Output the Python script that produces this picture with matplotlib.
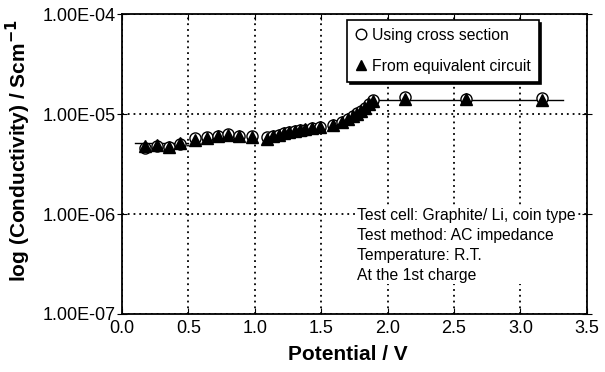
import matplotlib
matplotlib.use('Agg')
import matplotlib.pyplot as plt
from matplotlib.ticker import FixedLocator, FuncFormatter, NullLocator
import numpy as np

plt.rcParams['font.family'] = ['Liberation Sans', 'DejaVu Sans']
plt.rcParams['axes.unicode_minus'] = False

# potential (V) and conductivity (S/cm)
potential = [0.17, 0.26, 0.35, 0.44, 0.55, 0.64, 0.72, 0.80, 0.88, 0.98,
             1.09, 1.14, 1.18, 1.22, 1.26, 1.30, 1.34, 1.38, 1.43, 1.49,
             1.59, 1.66, 1.70, 1.74, 1.77, 1.80, 1.83, 1.86, 1.89,
             2.13, 2.59, 3.16]
cross_section = [4.6e-6, 4.8e-6, 4.7e-6, 5.0e-6, 5.7e-6, 5.9e-6, 6.1e-6, 6.3e-6, 6.1e-6, 6.0e-6,
                 5.9e-6, 6.0e-6, 6.2e-6, 6.4e-6, 6.6e-6, 6.8e-6, 6.9e-6, 7.0e-6, 7.2e-6, 7.4e-6,
                 7.8e-6, 8.4e-6, 9.0e-6, 9.6e-6, 1.02e-5, 1.08e-5, 1.16e-5, 1.25e-5, 1.38e-5,
                 1.48e-5, 1.42e-5, 1.45e-5]
equiv_circuit = [4.8e-6, 4.9e-6, 4.7e-6, 5.1e-6, 5.5e-6, 5.8e-6, 6.1e-6, 6.2e-6, 6.1e-6, 5.9e-6,
                 5.6e-6, 6.0e-6, 6.2e-6, 6.4e-6, 6.6e-6, 6.8e-6, 6.9e-6, 7.1e-6, 7.3e-6, 7.5e-6,
                 7.7e-6, 8.3e-6, 8.9e-6, 9.5e-6, 1.01e-5, 1.07e-5, 1.15e-5, 1.25e-5, 1.36e-5,
                 1.43e-5, 1.40e-5, 1.38e-5]

# fitted levels
fit_left_x = [0.10, 0.50]
fit_left_y = [5.1e-6, 5.1e-6]
fit_right_x = [1.85, 3.32]
fit_right_y = [1.38e-5, 1.38e-5]

fig = plt.figure(figsize=(6.05, 3.72), dpi=100)
ax = fig.add_axes([0.2017, 0.156, 0.7683, 0.806])

ax.plot(fit_left_x, fit_left_y, color='black', lw=1.0, zorder=2)
ax.plot(fit_right_x, fit_right_y, color='black', lw=1.0, zorder=2)

ax.plot(potential, cross_section, linestyle='none', marker='o', ms=8,
        mfc='white', mec='black', mew=1.0, label='Using cross section', zorder=3)
ax.plot(potential, equiv_circuit, linestyle='none', marker='^', ms=8,
        mfc='black', mec='black', label='From equivalent circuit', zorder=4)

ax.set_yscale('log')
ax.set_xlim(0, 3.5)
ax.set_ylim(1e-7, 1e-4)
ax.set_xticks(np.arange(0, 3.51, 0.5))
ax.xaxis.set_major_formatter(FuncFormatter(lambda v, p: '%.1f' % v))
ax.yaxis.set_major_locator(FixedLocator([1e-7, 1e-6, 1e-5, 1e-4]))
ax.yaxis.set_minor_locator(NullLocator())
ax.yaxis.set_major_formatter(FuncFormatter(lambda v, p: '%.2fE%03d' % (1.0, int(round(np.log10(v))))))

ax.grid(True, which='major', color='black', linestyle=(0, (1, 2.2)), linewidth=1.3)
ax.tick_params(axis='x', direction='in', top=True, length=4, labelsize=13, colors='black', pad=4)
ax.tick_params(axis='y', direction='inout', right=True, length=7, labelsize=13, pad=1)
for s in ax.spines.values():
    s.set_linewidth(1.3)

ax.set_xlabel('Potential / V', fontsize=15, fontweight='bold')
ax.set_ylabel('log (Conductivity) / Scm$^{\\mathbf{-1}}$', fontsize=15, fontweight='bold')
ax.xaxis.set_label_coords(0.486, -0.105)
ax.yaxis.set_label_coords(-0.192, 0.545)

leg = ax.legend(loc='upper left', bbox_to_anchor=(0.484, 0.98), borderaxespad=0,
                frameon=True, fancybox=False, framealpha=1,
                shadow={'color': 'black', 'alpha': 1.0}, edgecolor='black', fontsize=11.3,
                handletextpad=0.3, labelspacing=1.0, borderpad=0.5, handlelength=0.8,
                markerscale=0.95)
leg.get_frame().set_linewidth(1.2)

notes = 'Test cell: Graphite/ Li, coin type\nTest method: AC impedance\nTemperature: R.T.\nAt the 1st charge'
ax.text(0.505, 0.355, notes, transform=ax.transAxes, fontsize=11.3, va='top', ha='left',
        linespacing=1.42, bbox=dict(facecolor='white', edgecolor='none', pad=1), zorder=5)

fig.savefig('out.png', dpi=100)
